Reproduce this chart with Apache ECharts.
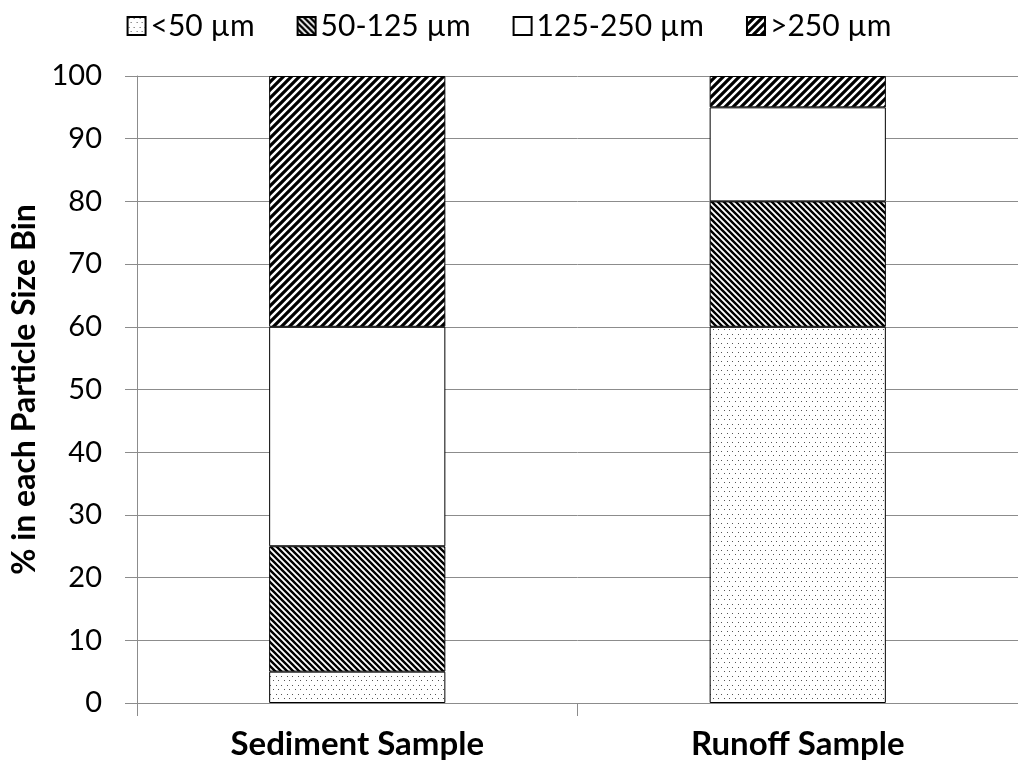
<!DOCTYPE html>
<html>
<head>
<meta charset="utf-8">
<script src="https://cdn.jsdelivr.net/npm/echarts@6/dist/echarts.min.js"></script>
<style>
html,body{margin:0;padding:0;background:#fff;}
#chart{width:1018px;height:770px;}
</style>
</head>
<body>
<div id="chart"></div>
<script>
var categories = ['Sediment Sample', 'Runoff Sample'];
var binNames = ['<50 µm', '50-125 µm', '125-250 µm', '>250 µm'];
var lt50 = [5, 60];
var b50_125 = [20, 20];
var b125_250 = [35, 15];
var gt250 = [40, 5];
var yTicks = [0, 10, 20, 30, 40, 50, 60, 70, 80, 90, 100];

function makeDots() {
  var c = document.createElement('canvas');
  c.width = 11; c.height = 9;
  var g = c.getContext('2d');
  g.fillStyle = '#fff'; g.fillRect(0, 0, 11, 9);
  g.fillStyle = '#555';
  g.fillRect(1, 1, 1, 1); g.fillRect(6, 1, 1, 1);
  g.fillRect(3, 5, 1, 1); g.fillRect(9, 5, 1, 1);
  return c;
}
function makeDiag(p, w, forward) {
  var c = document.createElement('canvas');
  c.width = p; c.height = p;
  var g = c.getContext('2d');
  g.fillStyle = '#fff'; g.fillRect(0, 0, p, p);
  g.strokeStyle = '#000'; g.lineWidth = w;
  g.beginPath();
  if (forward) {
    g.moveTo(-p, p); g.lineTo(p, -p);
    g.moveTo(0, 2 * p); g.lineTo(2 * p, 0);
    g.moveTo(-p, 2 * p); g.lineTo(2 * p, -p);
  } else {
    g.moveTo(-p, 0); g.lineTo(p, 2 * p);
    g.moveTo(0, -p); g.lineTo(2 * p, p);
    g.moveTo(-p, -p); g.lineTo(2 * p, 2 * p);
  }
  g.stroke();
  return c;
}
var fills = [
  {image: makeDots(), repeat: 'repeat'},
  {image: makeDiag(6, 2.4, false), repeat: 'repeat'},
  '#ffffff',
  {image: makeDiag(8, 3.2, true), repeat: 'repeat'}
];
var values = [lt50, b50_125, b125_250, gt250];
var font = 'Lato, "Open Sans", sans-serif';

var chart = echarts.init(document.getElementById('chart'), null, {renderer: 'canvas'});
var series = binNames.map(function (n, i) {
  return {
    name: n, type: 'bar', stack: 'total', barWidth: '40%',
    data: values[i],
    itemStyle: {color: fills[i], borderColor: '#000', borderWidth: 1},
    emphasis: {disabled: true}
  };
});
chart.setOption({
  animation: false,
  backgroundColor: '#fff',
  legend: {
    top: 6, left: 'center',
    itemWidth: 18, itemHeight: 18, itemGap: 42,
    icon: 'rect',
    textStyle: {fontFamily: font, fontSize: 30, color: '#000'},
    data: binNames
  },
  grid: {left: 137, right: 0, top: 76, bottom: 67, containLabel: false},
  xAxis: {
    type: 'category', data: categories,
    axisLine: {lineStyle: {color: '#8c8c8c', width: 1}},
    axisTick: {show: true, length: 13, lineStyle: {color: '#8c8c8c'}},
    axisLabel: {fontFamily: font, fontSize: 33, fontWeight: 'bold', color: '#000', margin: 25}
  },
  yAxis: {
    type: 'value', min: 0, max: 100, interval: 10,
    name: '% in each Particle Size Bin',
    nameLocation: 'middle', nameGap: 95, nameRotate: 90,
    nameTextStyle: {fontFamily: font, fontSize: 32, fontWeight: 'bold', color: '#000'},
    axisLine: {show: true, lineStyle: {color: '#8c8c8c', width: 1}},
    axisTick: {show: true, length: 12, lineStyle: {color: '#8c8c8c'}},
    splitLine: {lineStyle: {color: '#8c8c8c', width: 1}},
    axisLabel: {fontFamily: font, fontSize: 29, color: '#000', margin: 35,
      formatter: function (v) { return yTicks.indexOf(v) >= 0 ? String(v) : ''; }}
  },
  series: series
});
</script>
</body>
</html>
